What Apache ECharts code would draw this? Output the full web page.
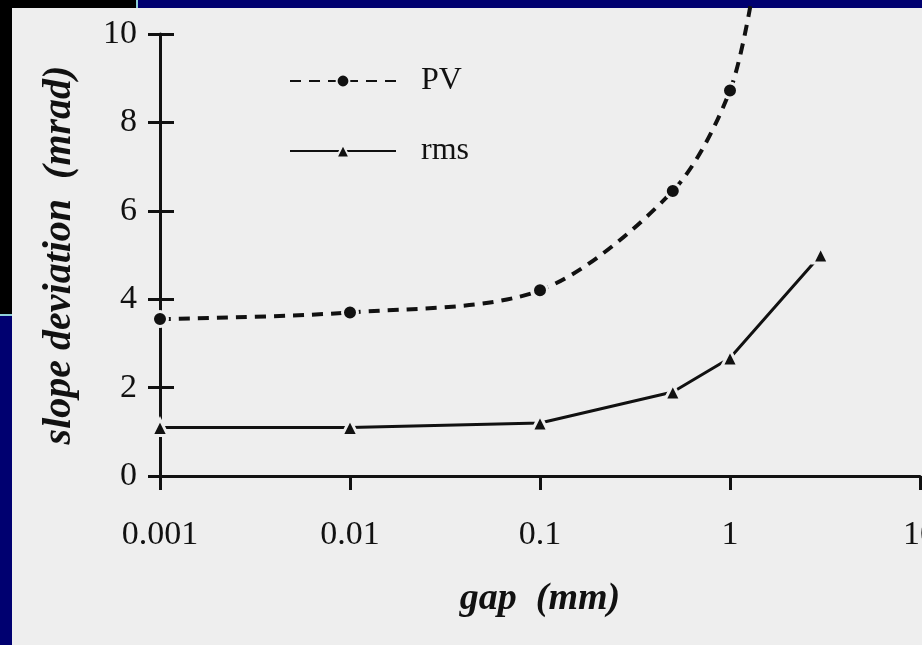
<!DOCTYPE html>
<html lang="en">
<head>
    <meta charset="UTF-8">
    <title>slope deviation vs gap</title>
    <script src="https://cdn.jsdelivr.net/npm/echarts@6/dist/echarts.min.js"></script>
    <style>
        html, body { margin: 0; padding: 0; background: #000070; }
        #chart { width: 922px; height: 645px; }
    </style>
</head>
<body>
<div id="chart"></div>
<script>
    // gap in mm (log axis), slope deviation in mrad
    const pvGap = [0.001, 0.01, 0.1, 0.5, 1, 1.35];
    const pvValues = [3.55, 3.7, 4.2, 6.45, 8.72, 11.2];
    const rmsGap = [0.001, 0.01, 0.1, 0.5, 1, 3];
    const rmsValues = [1.1, 1.1, 1.2, 1.9, 2.67, 5.0];
    const xTickLabels = ['0.001', '0.01', '0.1', '1', '10'];
    const yTickLabels = ['0', '2', '4', '6', '8', '10'];

    const paper = '#eeeeee';
    const ink = '#111111';
    const serif = '"Liberation Serif", "DejaVu Serif", serif';

    let myChart = echarts.init(document.getElementById('chart'));

    // last PV point only continues the curve off the top, no marker
    let pvData = pvGap.map((g, i) => {
        let item = {value: [g, pvValues[i]]};
        if (i === pvGap.length - 1) item.symbol = 'none';
        return item;
    });
    let rmsData = rmsGap.map((g, i) => [g, rmsValues[i]]);

    // second pair of axes only draws the inner half of the crossing ticks
    let tickAxisX = {
        type: 'log', logBase: 10, min: 0.001, max: 10,
        axisLine: {show: false}, splitLine: {show: false},
        axisLabel: {show: false},
        axisTick: {inside: true, length: 10, lineStyle: {color: ink, width: 3}}
    };
    let tickAxisY = {
        type: 'value', min: 0, max: 10, interval: 2, position: 'left',
        axisLine: {show: false}, splitLine: {show: false},
        axisLabel: {show: false},
        axisTick: {inside: true, length: 14, lineStyle: {color: ink, width: 3}}
    };

    let option = {
        backgroundColor: '#000070',
        animation: false,
        graphic: [
            {type: 'rect', z: -10, shape: {x: 0, y: 0, width: 136, height: 315}, style: {fill: '#000000'}},
            {type: 'rect', z: -10, shape: {x: 136, y: 0, width: 2, height: 315}, style: {fill: '#8fd0d8'}},
            {type: 'rect', z: -10, shape: {x: 0, y: 314, width: 138, height: 2}, style: {fill: '#8fd0d8'}},
            {type: 'rect', z: -10, shape: {x: 12, y: 8, width: 910, height: 637}, style: {fill: paper}}
        ],
        grid: {left: 160, right: 2, top: 34, bottom: 169, outerBoundsMode: 'none', containLabel: false},
        legend: {
            orient: 'vertical',
            left: 284, top: 60,
            itemWidth: 106, itemHeight: 16, itemGap: 38,
            data: ['PV', 'rms'],
            textStyle: {fontFamily: serif, fontSize: 32, color: ink, padding: [0, 0, 0, 20]}
        },
        xAxis: [{
            type: 'log', logBase: 10, min: 0.001, max: 10,
            name: 'gap  (mm)', nameLocation: 'middle', nameGap: 104,
            nameTextStyle: {fontFamily: serif, fontSize: 38, fontStyle: 'italic', fontWeight: 'bold', color: ink},
            axisLine: {lineStyle: {color: ink, width: 3}},
            axisTick: {length: 14, lineStyle: {color: ink, width: 3}},
            axisLabel: {
                fontFamily: serif, fontSize: 34, color: ink, margin: 42,
                formatter: (v, i) => xTickLabels[i]
            },
            splitLine: {show: false}
        }, tickAxisX],
        yAxis: [{
            type: 'value', min: 0, max: 10, interval: 2,
            name: 'slope deviation  (mrad)', nameLocation: 'middle', nameGap: 80,
            nameTextStyle: {fontFamily: serif, fontSize: 40, fontStyle: 'italic', fontWeight: 'bold', color: ink},
            axisLine: {show: true, lineStyle: {color: ink, width: 3}},
            axisTick: {show: true, length: 12, lineStyle: {color: ink, width: 3}},
            axisLabel: {
                fontFamily: serif, fontSize: 34, color: ink, margin: 23,
                formatter: (v, i) => yTickLabels[i]
            },
            splitLine: {show: false}
        }, tickAxisY],
        series: [{
            name: 'PV',
            type: 'line',
            data: pvData,
            smooth: 0.3,
            clip: false,
            symbol: 'circle', symbolSize: 15,
            itemStyle: {color: ink, borderColor: paper, borderWidth: 3},
            lineStyle: {color: ink, width: 4, type: [11, 8]}
        }, {
            name: 'rms',
            type: 'line',
            data: rmsData,
            symbol: 'triangle', symbolSize: 16,
            itemStyle: {color: ink, borderColor: paper, borderWidth: 3},
            lineStyle: {color: ink, width: 3}
        }]
    };
    myChart.setOption(option);
</script>
</body>
</html>
